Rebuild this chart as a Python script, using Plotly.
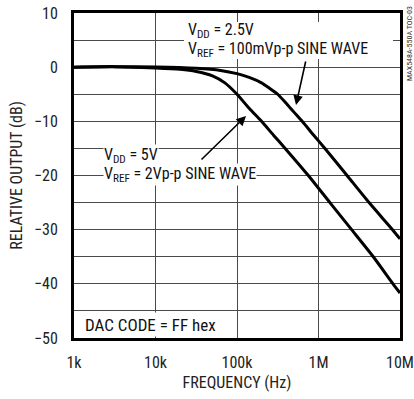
import plotly.graph_objects as go

# ---- data ----
freq_5v = [1e3, 3.16e3, 1e4, 2e4, 3.16e4, 5e4, 7.1e4, 1e5, 1.41e5, 2e5, 2.82e5, 3.9e5,
           7.5e5, 1.38e6, 2.55e6, 4.7e6, 8.2e6, 1e7]
db_5v = [0, 0.1, -0.15, -0.4, -0.8, -1.6, -2.9, -5.0, -7.6, -10, -12.6, -15,
         -20, -25, -30, -35, -40, -41.7]

freq_25v = [1e3, 3.16e3, 1e4, 3.16e4, 6.3e4, 1e5, 1.41e5, 2e5, 2.51e5, 3.16e5, 3.98e5,
            5e5, 6.3e5, 8.9e5, 1.2e6, 2.24e6, 4.17e6, 8.1e6, 1e7]
db_25v = [0, 0.1, 0.05, -0.2, -0.6, -1.2, -1.9, -2.9, -3.9, -5.0, -6.6,
          -8.3, -10.0, -12.7, -15, -20, -25, -30, -31.7]

x_tickvals = [1e3, 1e4, 1e5, 1e6, 1e7]
x_ticktext = ["1k", "10k", "100k", "1M", "10M"]
y_tickvals = [10, 0, -10, -20, -30, -40, -50]

FONT = "Liberation Sans Narrow, Arial Narrow, Roboto Condensed, Liberation Sans, Arial, sans-serif"
X_RANGE = [3, 7]
grid_color = "#4a4a4a"

fig = go.Figure()
for fx, fy in [(freq_5v, db_5v), (freq_25v, db_25v)]:
    fig.add_trace(go.Scatter(x=fx, y=fy, mode="lines",
                             line=dict(color="black", width=3, shape="spline", smoothing=0.6),
                             showlegend=False, hoverinfo="skip"))

fig.update_layout(
    template="none",
    xaxis=dict(type="log", range=X_RANGE, tickvals=x_tickvals, ticktext=x_ticktext,
               showgrid=True, gridcolor=grid_color, gridwidth=1,
               showline=True, linecolor="black", linewidth=3, mirror=True,
               ticks="outside", ticklen=8, tickcolor="rgba(0,0,0,0)", zeroline=False,
               title=dict(text="FREQUENCY (Hz)", standoff=6,
                          font=dict(family=FONT, size=16, color="#222")),
               tickfont=dict(family=FONT, size=16, color="#222")),
    yaxis=dict(range=[-50, 10], tickvals=y_tickvals,
               showgrid=True, gridcolor=grid_color, gridwidth=1,
               minor=dict(dtick=5, showgrid=True, gridcolor=grid_color, gridwidth=1),
               showline=True, linecolor="black", linewidth=3, mirror=True,
               ticks="outside", ticklen=10, tickcolor="rgba(0,0,0,0)", zeroline=False,
               title=dict(text="RELATIVE OUTPUT (dB)", standoff=8,
                          font=dict(family=FONT, size=16, color="#222")),
               tickfont=dict(family=FONT, size=16, color="#222")),
)

# white boxes behind notes (hide grid)
fig.add_shape(type="rect", xref="paper", yref="y", x0=0.006, x1=0.497, y0=-49.7, y1=-45.3,
              fillcolor="white", line=dict(width=0), layer="above")
fig.add_shape(type="rect", xref="paper", yref="paper", x0=(184 - 74) / 326, x1=(393 - 74) / 326,
              y0=(338 - 59) / 325, y1=(338 - 22) / 325,
              fillcolor="white", line=dict(width=0), layer="above")

tfont = dict(family=FONT, size=16, color="#111")
annots = [
    dict(xref="paper", yref="paper", x=(186 - 74) / 326, y=(338 - 31) / 325, xanchor="left", yanchor="middle",
         text="V<sub>DD</sub> = 2.5V", showarrow=False, font=tfont),
    dict(xref="paper", yref="paper", x=(186 - 74) / 326, y=(338 - 50) / 325, xanchor="left", yanchor="middle",
         text="V<sub>REF</sub> = 100mVp-p SINE WAVE", showarrow=False, font=tfont),
    dict(xref="paper", yref="paper", x=(103 - 74) / 326, y=(338 - 156) / 325, xanchor="left", yanchor="middle",
         text="V<sub>DD</sub> = 5V", showarrow=False, bgcolor="white", borderpad=0, font=tfont),
    dict(xref="paper", yref="paper", x=(103 - 74) / 326, y=(338 - 174) / 325, xanchor="left", yanchor="middle",
         text="V<sub>REF</sub> = 2Vp-p SINE WAVE", showarrow=False, bgcolor="white", borderpad=0, font=tfont),
    dict(xref="paper", yref="paper", x=(83 - 74) / 326, y=(338 - 325) / 325, xanchor="left", yanchor="middle",
         text="DAC CODE = FF hex", showarrow=False, font=dict(family=FONT, size=17, color="#111")),
    # arrows
    dict(xref="paper", yref="paper", x=(296 - 74) / 326, y=(338 - 105) / 325, text="",
         showarrow=True, arrowhead=2, arrowsize=1.2, arrowwidth=1.6, arrowcolor="black",
         ax=10, ay=-45),
    dict(xref="paper", yref="paper", x=(246 - 74) / 326, y=(338 - 116) / 325, text="",
         showarrow=True, arrowhead=2, arrowsize=1.2, arrowwidth=1.6, arrowcolor="black",
         ax=-46, ay=45),
    dict(xref="paper", yref="paper", x=(409 - 74) / 326, y=(338 - 44) / 325,
         xanchor="center", yanchor="middle", text="MAX548A-550A TOC-03", textangle=-90,
         showarrow=False, font=dict(family=FONT, size=8, color="#333")),
]
fig.update_layout(annotations=annots)

fig.update_layout(width=414, height=399, margin=dict(l=74, r=14, t=13, b=61),
                  paper_bgcolor="white", plot_bgcolor="white",
                  font=dict(family=FONT, size=16, color="#222"))

fig.write_html("out.html")
